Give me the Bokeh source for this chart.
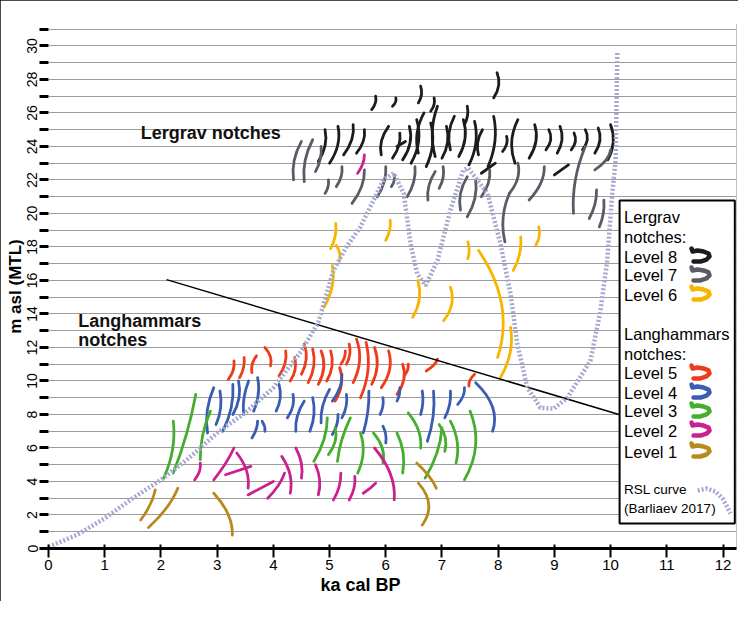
import math
from bokeh.plotting import figure
from bokeh.models import FixedTicker, Label, Title
from bokeh.embed import file_html
from bokeh.resources import INLINE

# ---------------- data ----------------
x_ticks = list(range(0, 13))
y_ticks = list(range(0, 32))

# RSL curve (Barliaev 2017)
rsl_ka = [0.0, 0.5, 1.0, 1.5, 2.0, 2.5, 3.0, 3.5, 4.0, 4.5, 4.8, 5.07, 5.3, 5.55, 5.96, 6.14,
          6.32, 6.44, 6.56, 6.71, 6.92, 7.15, 7.38, 7.47, 7.81, 8.04, 8.22, 8.34, 8.52, 8.75,
          8.99, 9.23, 9.64, 9.82, 9.94, 10.03, 10.09, 10.12]
rsl_m = [0.1, 0.8, 1.8, 3.0, 4.1, 5.4, 6.9, 8.1, 9.6, 11.8, 13.5, 16.6, 18.0, 19.2, 22.0, 22.4,
         21.2, 18.2, 16.4, 15.7, 17.2, 20.2, 22.6, 22.7, 21.2, 18.2, 15.2, 12.2, 9.6, 8.4,
         8.35, 9.0, 11.2, 14.2, 17.2, 21.2, 23.2, 29.7]

# separating line
trend_ka = [2.1, 10.15]
trend_m = [16.05, 8.0]

# notches: (ka bottom, m bottom, ka top, m top, bend)
level8 = [
    (4.80, 23.1, 4.92, 25.0, 0.10), (5.00, 23.0, 5.15, 25.2, 0.12), (5.25, 23.5, 5.42, 25.3, 0.10),
    (5.48, 23.6, 5.62, 25.0, 0.08), (5.92, 23.5, 6.05, 25.2, -0.10), (6.12, 23.3, 6.25, 24.8, 0.08),
    (6.30, 23.2, 6.42, 25.2, 0.12), (6.45, 23.0, 6.55, 25.6, 0.14), (6.58, 23.6, 6.68, 26.0, -0.12),
    (6.72, 22.8, 6.80, 25.4, 0.12), (6.88, 23.4, 6.92, 26.4, -0.12), (7.00, 23.3, 7.08, 25.2, 0.10),
    (7.15, 23.8, 7.22, 25.8, -0.10), (7.30, 23.4, 7.38, 25.6, 0.12), (7.48, 22.9, 7.58, 25.5, 0.12),
    (7.65, 23.5, 7.72, 25.0, -0.08), (7.82, 22.8, 7.92, 25.8, 0.12), (8.08, 23.7, 8.15, 24.6, 0.06),
    (8.30, 23.0, 8.35, 25.6, -0.14), (8.55, 23.3, 8.65, 25.3, 0.12), (8.85, 23.8, 8.90, 25.0, 0.10),
    (9.05, 23.6, 9.10, 25.2, 0.10), (9.30, 23.8, 9.35, 24.8, 0.08), (9.50, 23.8, 9.55, 25.0, 0.10),
    (9.72, 23.6, 9.78, 25.1, 0.10), (9.95, 23.2, 10.00, 25.3, 0.12), (5.75, 26.2, 5.82, 27.0, 0.05),
    (6.12, 26.4, 6.18, 26.9, 0.04), (6.58, 26.6, 6.62, 27.6, 0.06), (6.80, 26.1, 6.86, 26.9, 0.05),
    (7.92, 26.9, 7.98, 28.4, 0.10), (7.40, 25.3, 7.45, 26.4, 0.05), (7.70, 22.4, 7.95, 23.0, 0.0),
    (9.00, 22.3, 9.25, 22.9, 0.0), (6.20, 24.0, 6.35, 24.3, 0.0),
]
level7 = [
    (4.36, 22.0, 4.50, 24.3, -0.10), (4.55, 21.9, 4.70, 24.4, -0.10), (4.75, 22.5, 4.85, 24.0, 0.06),
    (4.92, 21.2, 4.98, 22.0, 0.04), (5.12, 21.6, 5.22, 22.8, 0.06), (5.40, 20.6, 5.62, 22.6, 0.10),
    (5.85, 21.0, 6.00, 22.8, 0.08), (6.10, 21.6, 6.15, 22.3, 0.04), (6.38, 21.0, 6.52, 22.8, 0.08),
    (6.75, 20.8, 6.88, 22.5, -0.08), (6.95, 21.5, 7.02, 22.8, 0.06), (7.33, 20.2, 7.45, 22.2, -0.10),
    (7.45, 19.8, 7.60, 22.0, 0.10), (7.70, 21.0, 7.85, 22.6, 0.08), (8.12, 18.3, 8.20, 21.2, -0.12),
    (8.20, 21.2, 8.35, 23.0, 0.12), (8.55, 20.8, 8.82, 22.8, 0.12), (9.34, 20.0, 9.55, 24.0, -0.12),
    (9.62, 19.7, 9.75, 21.4, 0.06), (9.80, 19.2, 9.88, 20.8, 0.05), (9.72, 22.6, 10.00, 23.8, 0.10),
]
level6 = [
    (5.02, 17.9, 5.11, 19.4, 0.06), (5.18, 17.2, 5.12, 18.1, 0.05), (4.90, 14.4, 5.05, 16.9, 0.12),
    (6.00, 18.4, 6.08, 19.6, 0.05), (6.48, 13.8, 6.57, 16.0, 0.12), (7.03, 13.6, 7.15, 15.6, 0.14),
    (7.46, 17.3, 7.46, 18.3, 0.04), (7.99, 11.4, 7.65, 17.8, 0.40), (8.04, 10.2, 8.22, 13.2, 0.14),
    (8.27, 16.6, 8.40, 18.6, 0.08), (8.67, 18.1, 8.72, 19.2, 0.06),
]
level5 = [
    (3.20, 10.1, 3.30, 11.2, 0.06), (3.40, 10.2, 3.48, 11.4, 0.05), (3.62, 10.5, 3.70, 11.5, -0.06),
    (3.95, 10.9, 3.85, 12.0, 0.08), (4.10, 10.3, 4.22, 11.8, 0.08), (4.30, 10.0, 4.38, 11.4, 0.08),
    (4.50, 10.4, 4.55, 12.2, 0.10), (4.62, 9.9, 4.70, 11.9, 0.10), (4.80, 9.8, 4.85, 11.8, 0.12),
    (4.95, 10.0, 5.02, 11.8, 0.10), (5.10, 8.8, 5.18, 10.8, 0.12), (5.30, 11.0, 5.35, 12.2, 0.06),
    (5.42, 9.9, 5.48, 12.5, 0.14), (5.55, 9.0, 5.65, 12.3, 0.14), (5.75, 9.8, 5.80, 12.0, 0.12),
    (5.92, 9.6, 6.05, 11.8, 0.14), (6.20, 9.2, 6.30, 11.0, 0.12), (6.35, 10.4, 6.40, 11.0, 0.03),
    (6.72, 10.6, 6.92, 11.3, 0.06), (7.48, 9.7, 7.58, 10.4, -0.05), (5.20, 11.0, 5.28, 11.8, 0.04),
]
level4 = [
    (2.83, 6.9, 2.94, 9.6, -0.10), (2.98, 7.4, 3.05, 9.4, 0.08), (3.10, 7.0, 3.28, 9.8, 0.10),
    (3.28, 8.0, 3.38, 10.0, 0.10), (3.47, 8.0, 3.56, 10.0, -0.06), (3.65, 8.2, 3.72, 10.2, 0.08),
    (3.62, 6.6, 3.72, 7.6, 0.04), (3.85, 7.0, 3.80, 7.6, 0.03), (4.05, 8.2, 4.10, 9.8, 0.08),
    (4.25, 7.8, 4.35, 9.2, 0.08), (4.40, 7.0, 4.55, 8.8, -0.08), (4.65, 7.0, 4.70, 9.0, 0.08),
    (4.85, 7.5, 5.00, 9.5, -0.08), (5.05, 8.8, 5.22, 10.4, 0.08), (5.05, 6.8, 5.15, 8.0, 0.05),
    (5.22, 7.8, 5.30, 9.2, 0.06), (5.60, 6.9, 5.70, 9.4, 0.05), (5.90, 8.0, 5.95, 9.0, 0.04),
    (6.00, 6.3, 5.95, 7.3, 0.04), (6.20, 8.8, 6.25, 9.6, 0.03), (6.62, 8.0, 6.65, 9.4, 0.04),
    (6.74, 6.4, 6.85, 9.4, 0.08), (7.05, 7.8, 7.15, 9.4, 0.06), (7.28, 8.6, 7.40, 9.6, 0.06),
    (7.90, 7.0, 7.60, 9.9, 0.25),
]
level3 = [
    (2.05, 4.2, 2.22, 7.6, 0.12), (2.22, 4.5, 2.62, 9.2, 0.06), (2.70, 5.3, 2.88, 8.2, -0.08),
    (4.72, 5.2, 4.96, 7.8, 0.10), (4.98, 5.6, 5.10, 7.2, 0.10), (5.14, 5.2, 5.37, 7.8, -0.06),
    (5.50, 4.5, 5.55, 6.9, 0.12), (5.95, 5.1, 5.78, 6.9, 0.12), (6.30, 4.5, 6.20, 6.9, 0.10),
    (6.62, 6.0, 6.40, 8.1, 0.12), (6.70, 4.2, 7.00, 7.2, 0.10), (7.05, 5.8, 6.95, 7.4, 0.10),
    (7.25, 5.1, 7.15, 7.6, 0.12), (7.40, 4.1, 7.50, 8.2, 0.25),
]
level2 = [
    (2.60, 4.1, 2.70, 5.1, 0.06), (2.94, 4.1, 3.30, 6.0, 0.04), (3.15, 4.4, 3.60, 4.9, 0.0),
    (3.55, 3.6, 3.35, 5.7, 0.12), (3.55, 3.2, 4.00, 4.0, 0.0), (3.90, 3.0, 4.20, 4.5, 0.06),
    (4.30, 3.3, 4.15, 5.5, 0.12), (4.50, 4.2, 4.40, 6.0, 0.08), (4.80, 3.2, 4.75, 5.0, 0.08),
    (5.07, 2.9, 5.20, 4.5, 0.06), (5.35, 2.9, 5.45, 4.3, 0.06), (5.60, 3.3, 5.82, 3.9, 0.02),
    (6.15, 2.9, 5.80, 6.0, 0.18), (5.50, 22.4, 5.62, 23.5, 0.05),
]
level1 = [
    (1.64, 1.7, 1.90, 3.5, 0.06), (1.78, 1.25, 2.30, 3.6, 0.10), (3.27, 0.8, 2.94, 3.3, 0.15),
    (6.90, 3.6, 6.55, 5.1, 0.06), (6.65, 1.4, 6.58, 3.9, 0.25),
]

level_names = ["Level 8", "Level 7", "Level 6", "Level 5", "Level 4", "Level 3", "Level 2", "Level 1"]
level_colors = ["#1c1c1c", "#5b5b66", "#f7b500", "#ef3b1a", "#3a5db2", "#45ae2e", "#c9218d", "#b8891c"]
levels = [level8, level7, level6, level5, level4, level3, level2, level1]

RSL_COLOR = "#a4a9cf"
FONT = "Liberation Sans"

# ---------------- figure ----------------
p = figure(width=738, height=601, x_range=(0, 12.24), y_range=(0, 31.28),
           output_backend="svg", toolbar_location=None,
           min_border_left=48, min_border_right=2, min_border_top=24, min_border_bottom=53)
p.outline_line_color = None
p.background_fill_color = "white"
p.border_fill_color = "white"
p.styles = {"outline": "2px solid #111111", "outline-offset": "-2px"}

p.xgrid.grid_line_color = None
p.ygrid.ticker = FixedTicker(ticks=y_ticks)
p.ygrid.grid_line_color = "#9c9c9c"
p.ygrid.grid_line_width = 1.2

p.yaxis.ticker = FixedTicker(ticks=y_ticks)
p.yaxis.major_label_overrides = {t: (str(t) if t % 2 == 0 and t <= 30 else "") for t in y_ticks}
p.yaxis.major_label_orientation = "vertical"
p.yaxis.axis_line_color = None
p.yaxis.major_tick_out = 9
p.yaxis.major_tick_in = 0
p.yaxis.major_tick_line_width = 3
p.yaxis.minor_tick_line_color = None
p.yaxis.major_label_standoff = 2
p.yaxis.major_label_text_font = FONT
p.yaxis.major_label_text_font_size = "14px"
p.yaxis.major_label_text_color = "black"
p.yaxis.axis_label = "m asl (MTL)"
p.yaxis.axis_label_standoff = 0
p.yaxis.axis_label_text_font = FONT
p.yaxis.axis_label_text_font_size = "17px"
p.yaxis.axis_label_text_font_style = "bold"
p.yaxis.axis_label_text_color = "black"

p.xaxis.ticker = FixedTicker(ticks=x_ticks)
p.xaxis.axis_line_width = 3
p.xaxis.axis_line_color = "black"
p.xaxis.major_tick_in = 4
p.xaxis.major_tick_out = 9
p.xaxis.major_tick_line_width = 2
p.xaxis.minor_tick_line_color = None
p.xaxis.major_label_standoff = 2
p.xaxis.major_label_text_font = FONT
p.xaxis.major_label_text_font_size = "15px"
p.xaxis.major_label_text_color = "black"

p.add_layout(Title(text="ka cal BP", align="left", offset=272, standoff=0,
                   text_font=FONT, text_font_size="18px", text_font_style="bold",
                   text_color="black"), "below")

# notches
for lev, col in zip(levels, level_colors):
    x0 = [n[0] for n in lev]
    y0 = [n[1] for n in lev]
    x1 = [n[2] for n in lev]
    y1 = [n[3] for n in lev]
    cx = [(n[0] + n[2]) / 2 + 1.2 * n[4] for n in lev]
    cy = [(n[1] + n[3]) / 2 for n in lev]
    p.quadratic(x0=x0, y0=y0, x1=x1, y1=y1, cx=cx, cy=cy,
                line_color=col, line_width=2.8, line_cap="round")

# trend line and RSL curve
p.line(trend_ka, trend_m, line_color="black", line_width=1.5)
p.line(rsl_ka, rsl_m, line_color=RSL_COLOR, line_width=4.5, line_dash="2 2")

# ---------------- legend (drawn) ----------------
KA_PX = 56.2
M_PX = 16.75
p.quad(left=[10.16], right=[12.21], bottom=[1.49], top=[20.78],
       fill_color="white", line_color="black", line_width=2)

leg_text_x = 10.24
leg_rows = [("Lergrav", 19.76), ("notches:", 18.57), ("Level 8", 17.43), ("Level 7", 16.30),
            ("Level 6", 15.16), ("Langhammars", 12.78), ("notches:", 11.64), ("Level 5", 10.45),
            ("Level 4", 9.31), ("Level 3", 8.18), ("Level 2", 7.04), ("Level 1", 5.79)]
for txt, yy in leg_rows:
    p.add_layout(Label(x=leg_text_x, y=yy, text=txt, text_font=FONT, text_font_size="16.5px",
                       text_baseline="middle", text_color="black"))
for txt, yy in [("RSL curve", 3.52), ("(Barliaev 2017)", 2.39)]:
    p.add_layout(Label(x=leg_text_x, y=yy, text=txt, text_font=FONT, text_font_size="13.5px",
                       text_baseline="middle", text_color="black"))

hook_dx = [0, 1, 6, 12, 17, 18, 15, 9, 2]
hook_dy = [-8, -5, -6, -5, -3, 0, 3, 5, 5]
hook_x = 11.44
hook_rows = [17.43, 16.30, 15.16, 10.45, 9.31, 8.18, 7.04, 5.79]
hxs, hys = [], []
for yy in hook_rows:
    hxs.append([hook_x + d / KA_PX for d in hook_dx])
    hys.append([yy - d / M_PX for d in hook_dy])
p.multi_line(xs=hxs, ys=hys, line_color=level_colors, line_width=4.5,
             line_cap="round", line_join="round")

p.line([11.55, 11.71, 11.87, 11.99, 12.08, 12.13], [3.46, 3.58, 3.40, 2.99, 2.45, 2.09],
       line_color=RSL_COLOR, line_width=4.5, line_dash="2 2")

# ---------------- texts ----------------
p.add_layout(Label(x=1.64, y=24.78, text="Lergrav notches", text_font=FONT, text_font_size="18px",
                   text_font_style="bold", text_baseline="middle", text_color="#111111"))
p.add_layout(Label(x=0.53, y=13.6, text="Langhammars", text_font=FONT, text_font_size="18px",
                   text_font_style="bold", text_baseline="middle", text_color="#111111"))
p.add_layout(Label(x=0.53, y=12.45, text="notches", text_font=FONT, text_font_size="18px",
                   text_font_style="bold", text_baseline="middle", text_color="#111111"))

open("out.html", "w").write(file_html(p, INLINE))
